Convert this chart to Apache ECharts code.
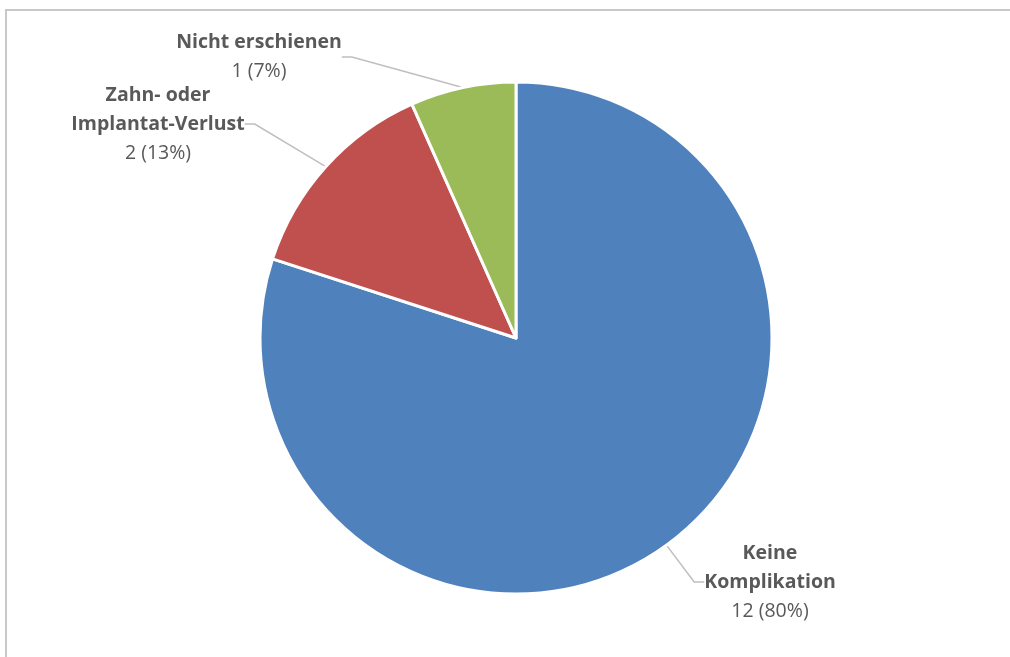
<!DOCTYPE html>
<html>
<head>
<meta charset="utf-8">
<script src="https://cdn.jsdelivr.net/npm/echarts@6/dist/echarts.min.js"></script>
<style>
  html, body { margin: 0; padding: 0; background: #ffffff; }
  #chart { width: 1010px; height: 657px; }
</style>
</head>
<body>
<div id="chart"></div>
<script>
// Outcome categories, counts and slice colours
const categories = ['Keine Komplikation', 'Zahn- oder Implantat-Verlust', 'Nicht erschienen'];
const labelNames = ['Keine\nKomplikation', 'Zahn- oder\nImplantat-Verlust', 'Nicht erschienen'];
const counts = [12, 2, 1];
const colors = ['#4F81BD', '#C0504D', '#9BBB59'];

// Label block centres (px) for each slice
const labelCentres = [[770, 582], [158, 124], [259, 57]];

const chart = echarts.init(document.getElementById('chart'), null, { renderer: 'canvas' });

const data = categories.map((c, i) => ({
  name: c,
  value: counts[i],
  itemStyle: { color: colors[i] }
}));

const FONT = 'Open Sans, Liberation Sans, sans-serif';

chart.setOption({
  animation: false,
  backgroundColor: '#ffffff',
  graphic: [{
    type: 'rect',
    shape: { x: 6, y: 10, width: 1020, height: 660 },
    style: { fill: 'none', stroke: '#c8c8c8', lineWidth: 2 },
    silent: true
  }],
  series: [{
    type: 'pie',
    center: [516, 338],
    radius: 256,
    startAngle: 90,
    clockwise: true,
    data: data,
    itemStyle: { borderColor: '#ffffff', borderWidth: 3 },
    label: {
      show: true,
      position: 'outside',
      fontFamily: FONT,
      color: '#595959',
      formatter: function (p) {
        return '{b|' + labelNames[p.dataIndex].split('\n').join('}\n{b|') + '}\n{v|' +
          p.value + ' (' + Math.round(p.percent) + '%)}';
      },
      rich: {
        b: { fontWeight: 'bold', fontSize: 19.5, color: '#595959', lineHeight: 29, align: 'center', fontFamily: FONT },
        v: { fontSize: 19.5, color: '#595959', lineHeight: 29, align: 'center', fontFamily: FONT }
      }
    },
    labelLine: {
      show: true,
      length: 20,
      length2: 10,
      lineStyle: { color: '#bfbfbf', width: 1.5 }
    },
    labelLayout: function (params) {
      const c = labelCentres[params.dataIndex];
      return { x: c[0], y: c[1], align: 'center', verticalAlign: 'middle' };
    }
  }]
});
</script>
</body>
</html>
